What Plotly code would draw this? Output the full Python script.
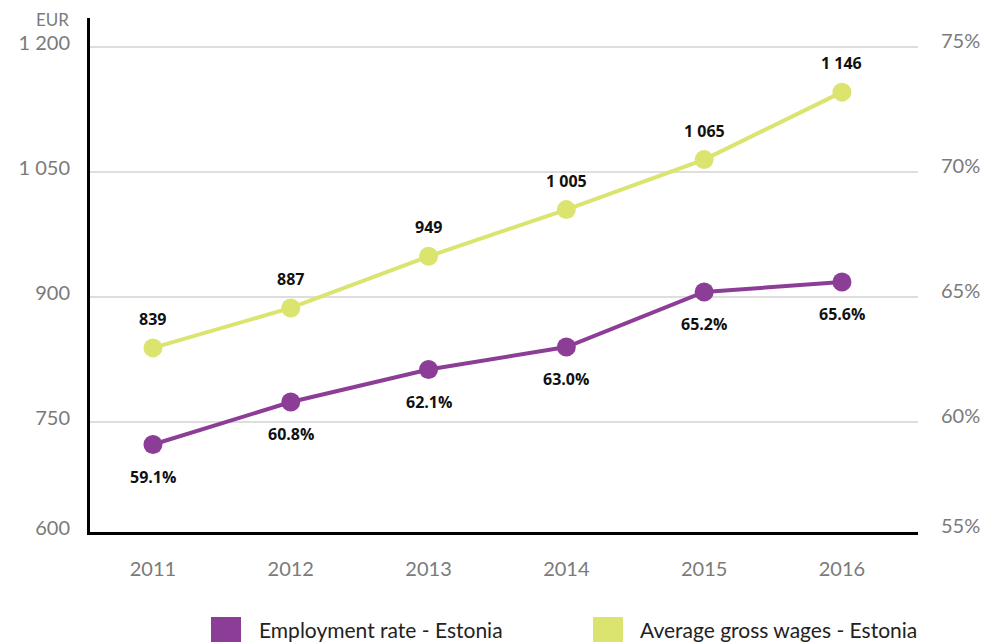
import plotly.graph_objects as go

# --- data -------------------------------------------------------------
years = [2011, 2012, 2013, 2014, 2015, 2016]
avg_gross_wages_eur = [839, 887, 949, 1005, 1065, 1146]
employment_rate_pct = [59.1, 60.8, 62.1, 63.0, 65.2, 65.6]

wage_ticks = [750, 900, 1050, 1200]
rate_ticks = [60, 65, 70, 75]
wage_axis_floor = 600
rate_axis_floor = 55

series_names = ["Employment rate - Estonia", "Average gross wages - Estonia"]

# --- styling ----------------------------------------------------------
PURPLE = "#8c3d96"
LIME = "#dbe46f"
TICK_GREY = "#7a7a7a"
GRID_GREY = "#dedede"
FONT = "Lato, 'Open Sans', sans-serif"
LABEL_FONT = "'Open Sans', sans-serif"

W, H = 987, 642
M_L, M_R, M_T, M_B = 90, 69, 18, 110
PLOT_W = W - M_L - M_R
PLOT_H = H - M_T - M_B

# axis windows (baseline sits just above the nominal floor)
wage_range = [618, 1235]
rate_range = [55.6, 76.16]


def fmt_thousands(v):
    return f"{v:,}".replace(",", " ")


def px_to_paper_x(px):
    return (px - M_L) / PLOT_W


def px_to_paper_y(py):
    return (H - M_B - py) / PLOT_H


fig = go.Figure()

fig.add_trace(go.Scatter(
    x=years, y=avg_gross_wages_eur, name=series_names[1],
    mode="lines+markers", yaxis="y",
    line=dict(color=LIME, width=4),
    marker=dict(color=LIME, size=19),
    showlegend=False, hoverinfo="skip",
))
fig.add_trace(go.Scatter(
    x=years, y=employment_rate_pct, name=series_names[0],
    mode="lines+markers", yaxis="y2",
    line=dict(color=PURPLE, width=4),
    marker=dict(color=PURPLE, size=19),
    showlegend=False, hoverinfo="skip",
))

annotations = []
for x, v in zip(years, avg_gross_wages_eur):
    annotations.append(dict(
        x=x, y=v, xref="x", yref="y", text=f"<b>{fmt_thousands(v)}</b>",
        showarrow=False, yshift=29,
        font=dict(family=LABEL_FONT, size=16, color="#111111"),
    ))
for x, v in zip(years, employment_rate_pct):
    annotations.append(dict(
        x=x, y=v, xref="x", yref="y2", text=f"<b>{v:.1f}%</b>",
        showarrow=False, yshift=-32,
        font=dict(family=LABEL_FONT, size=16, color="#111111"),
    ))

# unit caption above the left axis
annotations.append(dict(
    x=px_to_paper_x(71), y=px_to_paper_y(20), xref="paper", yref="paper",
    text="EUR", showarrow=False, xanchor="right", yanchor="middle",
    font=dict(family=FONT, size=17, color=TICK_GREY),
))

# hand-built legend: large colour squares with captions
legend_items = [(series_names[0], PURPLE, 211, 257), (series_names[1], LIME, 593, 638)]
shapes = []
for label, colour, sq_left, txt_left in legend_items:
    shapes.append(dict(
        type="rect", xref="paper", yref="paper",
        x0=px_to_paper_x(sq_left), x1=px_to_paper_x(sq_left + 30),
        y0=px_to_paper_y(617), y1=px_to_paper_y(647),
        fillcolor=colour, line=dict(width=0), layer="above",
    ))
    annotations.append(dict(
        x=px_to_paper_x(txt_left), y=px_to_paper_y(629),
        xref="paper", yref="paper", text=label, showarrow=False,
        xanchor="left", yanchor="middle",
        font=dict(family=FONT, size=21, color="#222222"),
    ))

fig.update_layout(
    width=W, height=H,
    margin=dict(l=M_L, r=M_R, t=M_T, b=M_B, autoexpand=False),
    paper_bgcolor="white", plot_bgcolor="white",
    font=dict(family=FONT, size=20, color=TICK_GREY),
    showlegend=False,
    xaxis=dict(
        range=[2010.543, 2016.552],
        tickvals=years, ticktext=[str(y) for y in years],
        showgrid=False, zeroline=False,
        showline=True, linecolor="black", linewidth=3,
        ticks="", ticklabelstandoff=17,
        tickfont=dict(family=FONT, size=20, color=TICK_GREY),
    ),
    yaxis=dict(
        range=wage_range,
        tickvals=[wage_range[0]] + wage_ticks,
        ticktext=[fmt_thousands(v) for v in [wage_axis_floor] + wage_ticks],
        showgrid=True, gridcolor=GRID_GREY, gridwidth=2,
        zeroline=False, showline=True, linecolor="black", linewidth=3,
        ticks="", ticklabelstandoff=13, ticklabelshift=-4,
        tickfont=dict(family=FONT, size=20, color=TICK_GREY),
    ),
    yaxis2=dict(
        range=rate_range, overlaying="y", side="right",
        tickvals=[rate_range[0]] + rate_ticks,
        ticktext=[f"{v}%" for v in [rate_axis_floor] + rate_ticks],
        showgrid=False, zeroline=False, showline=False,
        ticks="", ticklabelstandoff=22, ticklabelshift=-6,
        tickfont=dict(family=FONT, size=20, color=TICK_GREY),
    ),
    shapes=shapes,
    annotations=annotations,
)

fig.write_html("out.html")
